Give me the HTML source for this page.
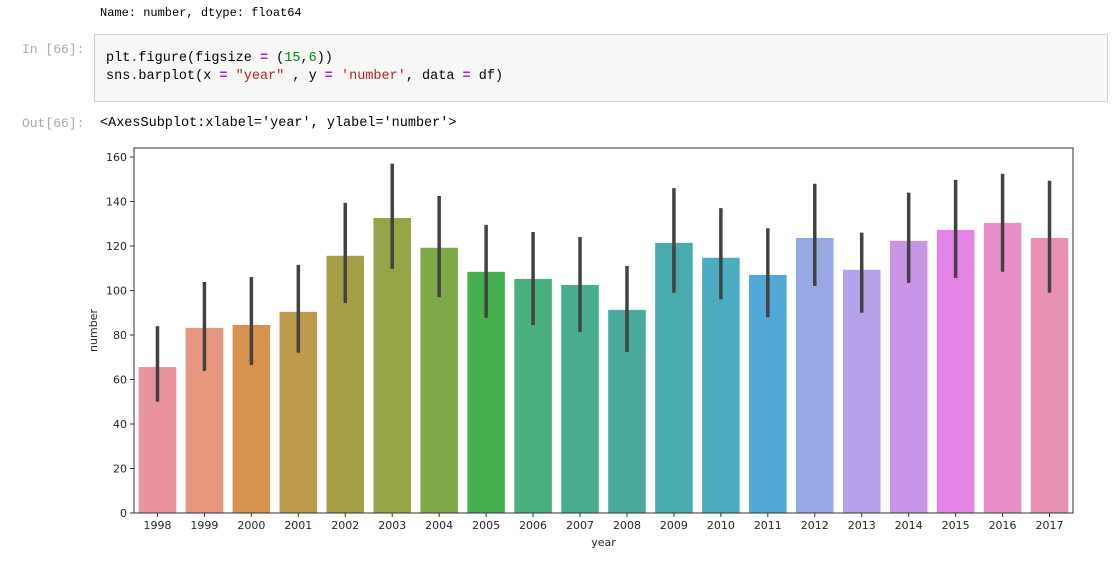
<!DOCTYPE html>
<html><head><meta charset="utf-8"><style>
body{margin:0;background:#fff;width:1118px;height:572px;overflow:hidden;font-family:"Liberation Mono",monospace;}
.t{position:absolute;font-size:13px;white-space:pre;color:#000;}
.p{color:#aaa;}
</style></head><body>
<div class="t" style="left:100px;top:6px;font-size:12px;">Name: number, dtype: float64</div>
<div class="t p" style="left:22px;top:42px;">In [66]:</div>
<div style="position:absolute;left:94px;top:34px;width:1012px;height:66px;background:#f7f7f7;border:1px solid #cfcfcf;"></div>
<div class="t" style="left:106px;top:51px;font-size:13.5px;">plt<span style="color:#7216ab">.</span>figure(figsize <span style="color:#aa22ff;font-weight:bold">=</span> (<span style="color:#080">15</span>,<span style="color:#080">6</span>))</div>
<div class="t" style="left:106px;top:69px;font-size:13.5px;">sns<span style="color:#7216ab">.</span>barplot(x <span style="color:#aa22ff;font-weight:bold">=</span> <span style="color:#ba2121">"year"</span> , y <span style="color:#aa22ff;font-weight:bold">=</span> <span style="color:#ba2121">'number'</span>, data <span style="color:#aa22ff;font-weight:bold">=</span> df)</div>
<div class="t p" style="left:22px;top:116px;">Out[66]:</div>
<div class="t" style="left:100px;top:116px;font-size:13.5px;">&lt;AxesSubplot:xlabel='year', ylabel='number'&gt;</div>
<svg id="c" width="1118" height="572" style="position:absolute;left:0;top:0;" font-family="DejaVu Sans, Liberation Sans, sans-serif"></svg>
<script>
const years=["1998","1999","2000","2001","2002","2003","2004","2005","2006","2007","2008","2009","2010","2011","2012","2013","2014","2015","2016","2017"];
const values=[65.6,83.2,84.5,90.4,115.6,132.6,119.2,108.4,105.2,102.5,91.3,121.4,114.7,107,123.6,109.3,122.3,127.2,130.4,123.6];
const ciLow=[50,63.8,66.5,72,94.4,109.7,97,87.7,84.5,81.4,72.4,99,96,88,102,90,103.4,105.7,108.4,99];
const ciHigh=[84,103.8,106,111.5,139.4,157,142.5,129.5,126.3,124,111,146,137,128,148,126,144,149.7,152.4,149.3];
const yTicks=[0,20,40,60,80,100,120,140,160];
const colors=["#e9939f","#e8967f","#d6924f","#bd9a4c","#a59e47","#98a448","#7ea948","#46b04f","#49b07e","#49ae8f","#48ab9d","#4aabaf","#4bacc2","#50a9d9","#95aae5","#b5a2ea","#c996e7","#e484e5","#e88fc9","#e892b3"];
const L=134,R=1073,T=148,B=513,K=2.225;
const step=(R-L)/years.length;
const xs=i=>L+step*(i+0.5);
const ys=v=>B-v*K;
const svg=document.getElementById('c');
const NS="http://www.w3.org/2000/svg";
function mk(tag,at){const e=document.createElementNS(NS,tag);for(const k in at)e.setAttribute(k,at[k]);svg.appendChild(e);return e;}
mk('rect',{x:L,y:T,width:R-L,height:B-T,fill:'#fff'});
years.forEach((y,i)=>{
  const bw=step*0.8;
  const r=mk('rect',{x:xs(i)-bw/2,y:ys(values[i]),width:bw,height:values[i]*K,fill:colors[i]});
  
  
});
years.forEach((y,i)=>{
  const l=mk('line',{x1:xs(i),x2:xs(i),y1:ys(ciLow[i]),y2:ys(ciHigh[i]),stroke:'#424242','stroke-width':3.5});
  
  
  mk('line',{x1:xs(i),x2:xs(i),y1:B,y2:B+4,stroke:'#333','stroke-width':1});
  const t=mk('text',{x:xs(i),y:B+16,'text-anchor':'middle','font-size':11,fill:'#262626'});
  t.textContent=y;
  
  
});
yTicks.forEach(v=>{
  mk('line',{x1:L-4,x2:L,y1:ys(v),y2:ys(v),stroke:'#333','stroke-width':1});
  const t=mk('text',{x:L-7,y:ys(v)+4,'text-anchor':'end','font-size':11,fill:'#262626'});
  t.textContent=v;
  
  
});
mk('rect',{x:L,y:T,width:R-L,height:B-T,fill:'none',stroke:'#333','stroke-width':1});
const xl=mk('text',{x:(L+R)/2,y:546,'text-anchor':'middle','font-size':11,fill:'#262626'});
xl.textContent='year';


const yl=mk('text',{x:0,y:0,transform:'translate(97,'+((T+B)/2)+') rotate(-90)','text-anchor':'middle','font-size':11,fill:'#262626'});
yl.textContent='number';


</script>
</body></html>
